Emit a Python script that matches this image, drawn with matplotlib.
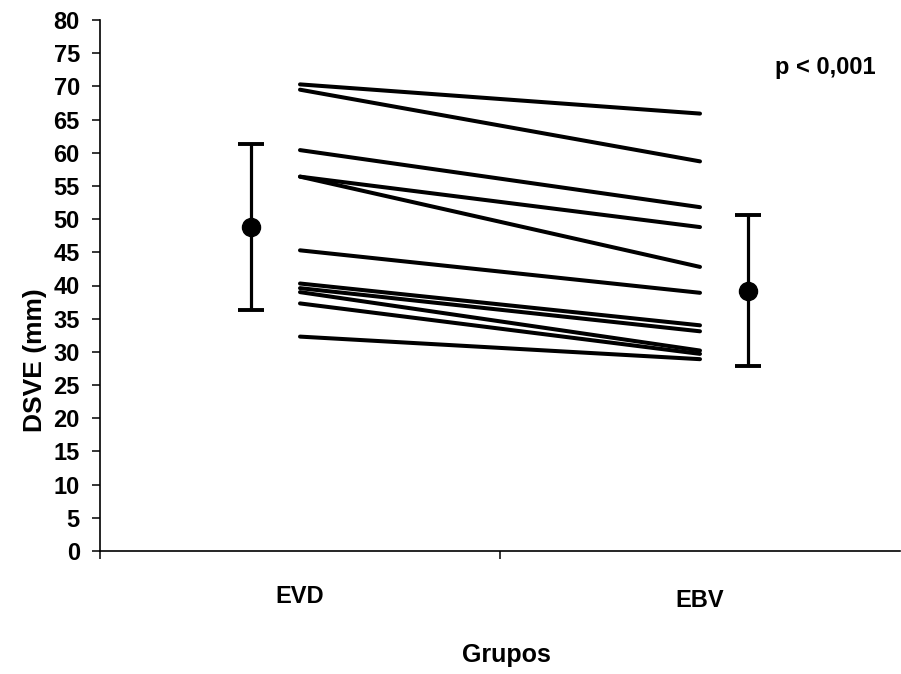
import matplotlib
matplotlib.use('Agg')

import numpy as np
import matplotlib.pyplot as plt

plt.rcParams['font.family'] = ['Liberation Sans', 'DejaVu Sans']
plt.rcParams['font.weight'] = 'bold'

# Data
categories = ['EVD', 'EBV']
evd = [70.3, 69.5, 60.4, 56.4, 56.4, 45.3, 40.3, 39.6, 39.0, 37.3, 32.3]
ebv = [65.9, 58.7, 51.8, 48.8, 42.8, 38.9, 34.0, 33.1, 30.2, 29.7, 28.9]
means = [48.8, 39.2]
sds = [12.45, 11.35]
y_ticks = list(range(0, 85, 5))

fig = plt.figure(figsize=(9.01, 6.74), dpi=100)
ax = fig.add_axes([100 / 901, 123 / 674, 800 / 901, 531 / 674])

# Paired lines, one per patient
cat_x = np.array([0.5, 1.5])
for a, b in zip(evd, ebv):
    ax.plot(cat_x, [a, b], color='black', lw=2.9, solid_capstyle='round')

# Mean +/- SD, drawn beside each group
bar_x = cat_x + np.array([-0.122, 0.12])
ax.errorbar(bar_x, means, yerr=sds, fmt='o', color='black', ms=13,
            elinewidth=2.3, capsize=9.5, capthick=2.8)

ax.set_xlim(0, 2)
ax.set_ylim(0, 80)
ax.set_yticks(y_ticks)
ax.set_yticklabels([str(t) for t in y_ticks], fontsize=17, fontweight='bold')
ax.set_xticks([0, 1])
ax.set_xticklabels([])

ax.tick_params(axis='y', direction='out', length=5.5, width=1.1, pad=9)
ax.tick_params(axis='x', direction='out', length=6, width=1.1)

for side in ['top', 'right']:
    ax.spines[side].set_visible(False)
for side in ['left', 'bottom']:
    ax.spines[side].set_linewidth(1.2)

# Category labels under the axis
for x, name, y in zip(cat_x, categories, [-6.9, -7.5]):
    ax.text(x, y, name, ha='center', va='center', fontsize=17,
            fontweight='bold', clip_on=False)

ax.text(1.015, -15.7, 'Grupos', ha='center', va='center', fontsize=18,
        fontweight='bold', clip_on=False)

ax.set_ylabel('DSVE (mm)', fontsize=19, fontweight='bold')
ax.yaxis.set_label_coords(-0.066, 0.36)

ax.text(1.8125, 72.9, 'p < 0,001', ha='center', va='center', fontsize=17,
        fontweight='bold')

fig.savefig('out.png', dpi=100)
